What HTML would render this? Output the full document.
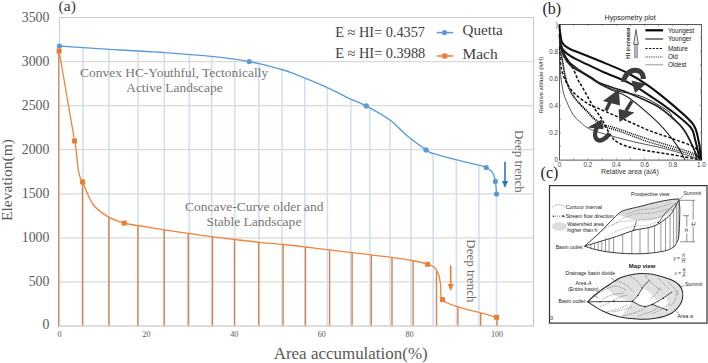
<!DOCTYPE html>
<html><head><meta charset="utf-8">
<style>
html,body{margin:0;padding:0;background:#fff;}
body{width:708px;height:363px;overflow:hidden;position:relative;}
svg{position:absolute;left:0;top:0;}
.serif{font-family:"Liberation Serif",serif;}
.sans{font-family:"Liberation Sans",sans-serif;}
</style></head><body>
<svg width="708" height="363" viewBox="0 0 708 363">
<rect width="708" height="363" fill="#fff"/>
<line x1="59.5" x2="534" y1="326.0" y2="326.0" stroke="#d9d9d9" stroke-width="1.2"/>
<line x1="59.5" x2="534" y1="281.9" y2="281.9" stroke="#d9d9d9" stroke-width="1.2"/>
<line x1="59.5" x2="534" y1="237.9" y2="237.9" stroke="#d9d9d9" stroke-width="1.2"/>
<line x1="59.5" x2="534" y1="193.8" y2="193.8" stroke="#d9d9d9" stroke-width="1.2"/>
<line x1="59.5" x2="534" y1="149.7" y2="149.7" stroke="#d9d9d9" stroke-width="1.2"/>
<line x1="59.5" x2="534" y1="105.6" y2="105.6" stroke="#d9d9d9" stroke-width="1.2"/>
<line x1="59.5" x2="534" y1="61.6" y2="61.6" stroke="#d9d9d9" stroke-width="1.2"/>
<line x1="59.5" x2="534" y1="17.5" y2="17.5" stroke="#d9d9d9" stroke-width="1.2"/>
<path d="M59.5,17.5 H533.5 V326" fill="none" stroke="#c8c8c8" stroke-width="1.1"/>
<line x1="59.5" x2="59.5" y1="17.5" y2="326" stroke="#d0d0d0" stroke-width="1.1"/>
<line x1="83.0" x2="83.0" y1="47.6" y2="326" stroke="#cfe0f3" stroke-width="1.6"/>
<line x1="108.9" x2="108.9" y1="49.3" y2="326" stroke="#cfe0f3" stroke-width="1.6"/>
<line x1="138.0" x2="138.0" y1="51.0" y2="326" stroke="#cfe0f3" stroke-width="1.6"/>
<line x1="164.3" x2="164.3" y1="52.5" y2="326" stroke="#cfe0f3" stroke-width="1.6"/>
<line x1="189.3" x2="189.3" y1="54.5" y2="326" stroke="#cfe0f3" stroke-width="1.6"/>
<line x1="211.7" x2="211.7" y1="56.4" y2="326" stroke="#cfe0f3" stroke-width="1.6"/>
<line x1="234.7" x2="234.7" y1="59.2" y2="326" stroke="#cfe0f3" stroke-width="1.6"/>
<line x1="258.8" x2="258.8" y1="63.6" y2="326" stroke="#cfe0f3" stroke-width="1.6"/>
<line x1="282.0" x2="282.0" y1="69.6" y2="326" stroke="#cfe0f3" stroke-width="1.6"/>
<line x1="304.8" x2="304.8" y1="78.1" y2="326" stroke="#cfe0f3" stroke-width="1.6"/>
<line x1="327.4" x2="327.4" y1="87.7" y2="326" stroke="#cfe0f3" stroke-width="1.6"/>
<line x1="350.7" x2="350.7" y1="99.0" y2="326" stroke="#cfe0f3" stroke-width="1.6"/>
<line x1="369.9" x2="369.9" y1="108.1" y2="326" stroke="#cfe0f3" stroke-width="1.6"/>
<line x1="390.0" x2="390.0" y1="120.1" y2="326" stroke="#cfe0f3" stroke-width="1.6"/>
<line x1="410.9" x2="410.9" y1="138.5" y2="326" stroke="#cfe0f3" stroke-width="1.6"/>
<line x1="433.2" x2="433.2" y1="153.4" y2="326" stroke="#cfe0f3" stroke-width="1.6"/>
<line x1="456.4" x2="456.4" y1="159.7" y2="326" stroke="#cfe0f3" stroke-width="1.6"/>
<line x1="478.9" x2="478.9" y1="165.2" y2="326" stroke="#cfe0f3" stroke-width="1.6"/>
<line x1="496.5" x2="496.5" y1="194.0" y2="326" stroke="#cfe0f3" stroke-width="1.6"/>
<line x1="58.6" x2="58.6" y1="51.0" y2="327" stroke="#d8824a" stroke-width="1.0"/>
<line x1="82.5" x2="82.5" y1="181.7" y2="327" stroke="#d8824a" stroke-width="1.4"/>
<line x1="108.9" x2="108.9" y1="217.1" y2="327" stroke="#d8824a" stroke-width="1.4"/>
<line x1="137.9" x2="137.9" y1="225.5" y2="327" stroke="#d8824a" stroke-width="1.4"/>
<line x1="164.2" x2="164.2" y1="229.8" y2="327" stroke="#d8824a" stroke-width="1.4"/>
<line x1="188.2" x2="188.2" y1="233.4" y2="327" stroke="#d8824a" stroke-width="1.4"/>
<line x1="212.5" x2="212.5" y1="236.8" y2="327" stroke="#d8824a" stroke-width="1.4"/>
<line x1="234.5" x2="234.5" y1="239.4" y2="327" stroke="#d8824a" stroke-width="1.4"/>
<line x1="258.7" x2="258.7" y1="242.3" y2="327" stroke="#d8824a" stroke-width="1.4"/>
<line x1="283.1" x2="283.1" y1="244.5" y2="327" stroke="#d8824a" stroke-width="1.4"/>
<line x1="305.5" x2="305.5" y1="247.0" y2="327" stroke="#d8824a" stroke-width="1.4"/>
<line x1="329.6" x2="329.6" y1="249.9" y2="327" stroke="#d8824a" stroke-width="1.4"/>
<line x1="352.1" x2="352.1" y1="252.6" y2="327" stroke="#d8824a" stroke-width="1.4"/>
<line x1="371.3" x2="371.3" y1="254.9" y2="327" stroke="#d8824a" stroke-width="1.4"/>
<line x1="392.0" x2="392.0" y1="257.4" y2="327" stroke="#d8824a" stroke-width="1.4"/>
<line x1="413.1" x2="413.1" y1="260.7" y2="327" stroke="#d8824a" stroke-width="1.4"/>
<line x1="436.5" x2="436.5" y1="270.9" y2="327" stroke="#d8824a" stroke-width="1.4"/>
<line x1="457.9" x2="457.9" y1="306.9" y2="327" stroke="#d8824a" stroke-width="1.4"/>
<line x1="480.7" x2="480.7" y1="312.9" y2="327" stroke="#d8824a" stroke-width="1.4"/>
<line x1="497.0" x2="497.0" y1="317.3" y2="327" stroke="#d8824a" stroke-width="1.4"/>
<line x1="59" x2="534" y1="326" y2="326" stroke="#d9d9d9" stroke-width="1.3"/>
<path d="M59.4,46.0 C63.4,46.3 74.9,47.1 83.3,47.6 C91.7,48.1 100.4,48.7 109.6,49.3 C118.8,49.9 129.1,50.5 138.4,51.0 C147.7,51.5 156.8,52.0 165.5,52.6 C174.2,53.2 182.8,54.0 190.4,54.6 C198.0,55.2 203.9,55.6 211.3,56.4 C218.7,57.2 228.4,58.3 234.7,59.2 C241.0,60.1 245.3,60.9 249.2,61.6 C253.1,62.3 252.6,62.1 258.0,63.4 C263.4,64.7 275.6,67.7 281.8,69.5 C288.0,71.3 291.2,72.7 295.0,74.1 C298.8,75.5 299.3,75.8 304.7,78.1 C310.1,80.3 319.6,84.1 327.2,87.6 C334.8,91.0 343.7,95.8 350.2,98.8 C356.7,101.8 359.5,102.2 366.3,105.9 C373.1,109.6 384.6,116.0 391.0,120.7 C397.4,125.4 399.2,129.1 405.0,134.0 C410.8,138.9 421.2,146.6 426.0,149.9 C430.8,153.2 428.6,151.9 433.7,153.6 C438.8,155.2 449.3,157.9 456.8,159.8 C464.3,161.7 474.0,163.9 478.9,165.2 C483.8,166.5 483.9,166.3 486.2,167.5 C488.5,168.7 491.0,170.2 492.5,172.5 C494.0,174.8 494.7,177.8 495.4,181.4 C496.1,185.0 496.3,191.9 496.5,194.0" fill="none" stroke="#5b9bd5" stroke-width="1.35"/>
<path d="M59.1,51 L74.6,141" fill="none" stroke="#ee8640" stroke-width="1.35"/>
<path d="M74.6,141.0 C74.8,142.5 75.7,146.8 76.1,150.0 C76.5,153.2 76.8,156.7 77.2,160.0 C77.6,163.3 77.8,167.2 78.3,170.0 C78.8,172.8 79.3,175.0 80.0,177.0 C80.7,179.0 80.4,177.3 82.6,181.9 C84.8,186.5 88.8,198.7 93.1,204.5 C97.4,210.3 103.1,213.8 108.3,216.9 C113.5,220.0 119.3,221.7 124.2,223.1 C129.1,224.5 130.9,224.4 137.6,225.5 C144.2,226.6 155.6,228.5 164.1,229.8 C172.6,231.1 180.4,232.2 188.5,233.4 C196.6,234.6 204.9,235.8 212.7,236.8 C220.5,237.8 227.6,238.6 235.3,239.5 C243.0,240.4 250.9,241.5 259.0,242.3 C267.1,243.1 275.8,243.7 283.6,244.5 C291.4,245.3 298.1,246.1 305.7,247.0 C313.3,247.9 321.5,249.0 329.2,249.9 C336.9,250.8 345.0,251.8 352.0,252.6 C359.0,253.4 364.4,254.1 371.0,254.9 C377.6,255.7 384.5,256.4 391.4,257.3 C398.3,258.2 406.4,259.3 412.4,260.5 C418.4,261.7 423.9,263.1 427.6,264.3 C431.3,265.5 432.7,265.8 434.5,267.5 C436.3,269.2 437.6,271.6 438.6,274.5 C439.6,277.4 440.0,280.8 440.6,285.0 C441.2,289.2 439.6,296.0 442.5,299.6 C445.4,303.2 451.6,304.7 458.0,306.9 C464.4,309.1 474.3,311.2 480.7,312.9 C487.1,314.6 493.9,316.6 496.5,317.3" fill="none" stroke="#ee8640" stroke-width="1.35"/>
<circle cx="59.4" cy="46.0" r="2.6" fill="#5b9bd5"/>
<circle cx="249.2" cy="61.6" r="2.6" fill="#5b9bd5"/>
<circle cx="366.3" cy="105.9" r="2.6" fill="#5b9bd5"/>
<circle cx="426.0" cy="149.9" r="2.6" fill="#5b9bd5"/>
<circle cx="486.2" cy="167.5" r="2.6" fill="#5b9bd5"/>
<circle cx="495.4" cy="181.4" r="2.6" fill="#5b9bd5"/>
<circle cx="496.5" cy="194.0" r="2.6" fill="#5b9bd5"/>
<rect x="56.6" y="48.5" width="5" height="5" fill="#ed7d31"/>
<rect x="72.1" y="138.5" width="5" height="5" fill="#ed7d31"/>
<rect x="80.1" y="179.4" width="5" height="5" fill="#ed7d31"/>
<rect x="121.7" y="220.6" width="5" height="5" fill="#ed7d31"/>
<rect x="425.1" y="261.8" width="5" height="5" fill="#ed7d31"/>
<rect x="440.0" y="297.1" width="5" height="5" fill="#ed7d31"/>
<rect x="494.0" y="314.8" width="5" height="5" fill="#ed7d31"/>
<!-- legend -->
<rect x="300" y="18" width="233" height="42" fill="#fff"/>
<g class="serif" fill="#404040" font-size="14" lengthAdjust="spacingAndGlyphs">
<text x="335.2" y="36.9" textLength="89.8" lengthAdjust="spacingAndGlyphs">E ≈ HI= 0.4357</text>
<text x="335.2" y="58.3" textLength="90.1" lengthAdjust="spacingAndGlyphs">E ≈ HI= 0.3988</text>
</g>
<line x1="436.7" x2="453.2" y1="32.6" y2="32.6" stroke="#5b9bd5" stroke-width="1.5"/>
<circle cx="444.5" cy="32.6" r="2.6" fill="#5b9bd5"/>
<line x1="436.7" x2="453.2" y1="56" y2="56" stroke="#ed7d31" stroke-width="1.5"/>
<rect x="442.2" y="53.5" width="5" height="5" fill="#ed7d31"/>
<g class="serif" fill="#404040" font-size="15.5">
<text x="462.5" y="35.4" textLength="40.3" lengthAdjust="spacingAndGlyphs">Quetta</text>
<text x="462.5" y="58.8" textLength="35.2" lengthAdjust="spacingAndGlyphs">Mach</text>
</g>
<!-- annotations -->
<g class="serif" fill="#767676" font-size="13">
<text x="80.1" y="76.9" textLength="188" lengthAdjust="spacingAndGlyphs">Convex HC-Youthful, Tectonically</text>
<text x="126.2" y="91.7" textLength="96.5" lengthAdjust="spacingAndGlyphs">Active Landscape</text>
<text x="185" y="210.9" textLength="138.5" lengthAdjust="spacingAndGlyphs">Concave-Curve older and</text>
<text x="206.4" y="226.3" textLength="95" lengthAdjust="spacingAndGlyphs">Stable Landscape</text>
</g>
<g class="serif" fill="#6a6a6a" font-size="13">
<text transform="translate(515.2,130) rotate(90)" textLength="62.6" lengthAdjust="spacingAndGlyphs">Deep trench</text>
<text transform="translate(466.7,239.3) rotate(90)" textLength="63.2" lengthAdjust="spacingAndGlyphs">Deep trench</text>
</g>
<!-- arrows -->
<line x1="505" x2="505" y1="161.8" y2="182" stroke="#2e75b6" stroke-width="1.6"/>
<path d="M502,181 L508,181 L505,188 Z" fill="#2e75b6"/>
<line x1="450.7" x2="450.7" y1="265.4" y2="285" stroke="#ed7d31" stroke-width="1.6"/>
<path d="M447.7,284 L453.7,284 L450.7,291 Z" fill="#ed7d31"/>
<!-- axis labels -->
<g class="serif" fill="#595959" font-size="13.8" text-anchor="end">
<text x="49.4" y="22.4">3500</text>
<text x="49.4" y="66.3">3000</text>
<text x="49.4" y="110">2500</text>
<text x="49.4" y="153.8">2000</text>
<text x="49.4" y="197.8">1500</text>
<text x="49.4" y="241.6">1000</text>
<text x="49.4" y="285.7">500</text>
<text x="49.4" y="329.4">0</text>
</g>
<g class="serif" fill="#555" font-size="8" text-anchor="middle">
<text x="59.5" y="336.7">0</text>
<text x="146.6" y="336.7">20</text>
<text x="234.2" y="336.7">40</text>
<text x="321.8" y="336.7">60</text>
<text x="409.4" y="336.7">80</text>
<text x="497" y="336.7">100</text>
</g>
<text class="serif" fill="#595959" font-size="14.6" transform="translate(12.3,221) rotate(-90)" textLength="82" lengthAdjust="spacingAndGlyphs">Elevation(m)</text>
<text class="serif" fill="#595959" font-size="16.2" x="273.7" y="359.3" textLength="154" lengthAdjust="spacingAndGlyphs">Area accumulation(%)</text>
<text class="serif" fill="#3a3a3a" font-size="15.6" x="58.6" y="10.9">(a)</text>
<g id="panelb">
<rect x="559.5" y="24.5" width="141.9" height="135.6" fill="#fff" stroke="#444" stroke-width="0.9"/>
<line x1="559.5" x2="561" y1="146.2" y2="146.2" stroke="#555" stroke-width="0.6"/>
<line x1="700" x2="701.4" y1="146.2" y2="146.2" stroke="#555" stroke-width="0.6"/>
<line x1="573.7" x2="573.7" y1="158.2" y2="159.7" stroke="#555" stroke-width="0.6"/>
<line x1="573.7" x2="573.7" y1="24.5" y2="26" stroke="#555" stroke-width="0.6"/>
<line x1="559.5" x2="561" y1="132.7" y2="132.7" stroke="#555" stroke-width="0.6"/>
<line x1="700" x2="701.4" y1="132.7" y2="132.7" stroke="#555" stroke-width="0.6"/>
<line x1="587.9" x2="587.9" y1="158.2" y2="159.7" stroke="#555" stroke-width="0.6"/>
<line x1="587.9" x2="587.9" y1="24.5" y2="26" stroke="#555" stroke-width="0.6"/>
<line x1="559.5" x2="561" y1="119.1" y2="119.1" stroke="#555" stroke-width="0.6"/>
<line x1="700" x2="701.4" y1="119.1" y2="119.1" stroke="#555" stroke-width="0.6"/>
<line x1="602.1" x2="602.1" y1="158.2" y2="159.7" stroke="#555" stroke-width="0.6"/>
<line x1="602.1" x2="602.1" y1="24.5" y2="26" stroke="#555" stroke-width="0.6"/>
<line x1="559.5" x2="561" y1="105.6" y2="105.6" stroke="#555" stroke-width="0.6"/>
<line x1="700" x2="701.4" y1="105.6" y2="105.6" stroke="#555" stroke-width="0.6"/>
<line x1="616.3" x2="616.3" y1="158.2" y2="159.7" stroke="#555" stroke-width="0.6"/>
<line x1="616.3" x2="616.3" y1="24.5" y2="26" stroke="#555" stroke-width="0.6"/>
<line x1="559.5" x2="561" y1="92.1" y2="92.1" stroke="#555" stroke-width="0.6"/>
<line x1="700" x2="701.4" y1="92.1" y2="92.1" stroke="#555" stroke-width="0.6"/>
<line x1="630.5" x2="630.5" y1="158.2" y2="159.7" stroke="#555" stroke-width="0.6"/>
<line x1="630.5" x2="630.5" y1="24.5" y2="26" stroke="#555" stroke-width="0.6"/>
<line x1="559.5" x2="561" y1="78.6" y2="78.6" stroke="#555" stroke-width="0.6"/>
<line x1="700" x2="701.4" y1="78.6" y2="78.6" stroke="#555" stroke-width="0.6"/>
<line x1="644.6" x2="644.6" y1="158.2" y2="159.7" stroke="#555" stroke-width="0.6"/>
<line x1="644.6" x2="644.6" y1="24.5" y2="26" stroke="#555" stroke-width="0.6"/>
<line x1="559.5" x2="561" y1="65.1" y2="65.1" stroke="#555" stroke-width="0.6"/>
<line x1="700" x2="701.4" y1="65.1" y2="65.1" stroke="#555" stroke-width="0.6"/>
<line x1="658.8" x2="658.8" y1="158.2" y2="159.7" stroke="#555" stroke-width="0.6"/>
<line x1="658.8" x2="658.8" y1="24.5" y2="26" stroke="#555" stroke-width="0.6"/>
<line x1="559.5" x2="561" y1="51.5" y2="51.5" stroke="#555" stroke-width="0.6"/>
<line x1="700" x2="701.4" y1="51.5" y2="51.5" stroke="#555" stroke-width="0.6"/>
<line x1="673.0" x2="673.0" y1="158.2" y2="159.7" stroke="#555" stroke-width="0.6"/>
<line x1="673.0" x2="673.0" y1="24.5" y2="26" stroke="#555" stroke-width="0.6"/>
<line x1="559.5" x2="561" y1="38.0" y2="38.0" stroke="#555" stroke-width="0.6"/>
<line x1="700" x2="701.4" y1="38.0" y2="38.0" stroke="#555" stroke-width="0.6"/>
<line x1="687.2" x2="687.2" y1="158.2" y2="159.7" stroke="#555" stroke-width="0.6"/>
<line x1="687.2" x2="687.2" y1="24.5" y2="26" stroke="#555" stroke-width="0.6"/>
<path d="M559.5,24.5 C559.5,25.4 559.6,28.2 559.8,29.9 C559.9,31.6 560.0,32.6 560.4,34.5 C560.7,36.4 560.8,39.5 561.6,41.4 C562.4,43.3 563.6,44.8 565.2,46.1 C566.7,47.5 568.4,48.4 570.9,49.5 C573.3,50.6 575.1,51.0 579.9,52.9 C584.8,54.8 591.9,57.6 599.9,61.0 C608.0,64.4 619.7,68.9 628.0,73.2 C636.4,77.5 642.6,81.5 650.0,86.8 C657.5,92.1 665.4,98.7 672.6,104.9 C679.8,111.2 688.7,118.1 693.0,124.1 C697.4,130.2 697.3,135.6 698.6,141.0 C699.9,146.5 700.4,153.8 700.8,156.9 C701.3,160.0 701.3,159.2 701.4,159.7" fill="none" stroke="#111" stroke-width="2.1"/>
<path d="M559.5,34.0 C559.9,36.3 560.1,44.4 562.1,48.2 C564.0,51.9 566.8,53.7 571.1,56.4 C575.4,59.2 582.3,62.0 587.9,64.7 C593.4,67.3 597.6,69.5 604.3,72.5 C611.0,75.4 620.4,78.5 628.0,82.4 C635.7,86.2 642.6,90.9 650.0,95.8 C657.5,100.6 665.8,106.4 672.6,111.7 C679.4,117.0 687.0,122.8 690.8,127.5 C694.5,132.2 693.9,135.4 695.2,140.0 C696.5,144.5 697.9,151.4 698.6,154.7 C699.2,158.0 699.2,158.9 699.3,159.7" fill="none" stroke="#111" stroke-width="2.0"/>
<path d="M559.5,38.0 C560.1,40.3 561.4,47.5 563.0,51.5 C564.7,55.6 566.6,59.2 569.4,62.4 C572.2,65.5 576.3,68.0 579.9,70.5 C583.5,72.9 587.7,75.1 591.0,77.2 C594.3,79.3 595.7,81.1 599.9,83.0 C604.2,85.0 611.6,87.1 616.3,88.7 C620.9,90.3 621.4,90.0 628.0,92.8 C634.7,95.6 648.6,101.3 656.1,105.6 C663.6,109.9 668.3,114.4 673.0,118.5 C677.7,122.6 680.5,124.5 684.2,130.2 C688.0,135.9 693.4,147.8 695.4,152.7 C697.5,157.6 696.3,158.5 696.4,159.7" fill="none" stroke="#222" stroke-width="1.7"/>
<path d="M559.5,40.7 C560.2,43.2 561.9,51.5 563.8,55.6 C565.6,59.7 568.2,62.5 570.9,65.1 C573.5,67.7 576.6,69.0 579.9,71.1 C583.3,73.3 587.7,75.8 591.0,77.9 C594.3,80.0 595.6,81.6 599.9,83.7 C604.3,85.9 609.9,88.7 617.0,90.9 C624.0,93.0 633.7,93.3 642.1,96.6 C650.5,99.9 662.2,107.1 667.3,110.6 C672.5,114.2 670.2,114.5 673.0,117.8 C675.8,121.1 680.5,124.4 684.2,130.2 C688.0,136.0 693.4,147.8 695.4,152.7 C697.5,157.6 696.3,158.5 696.4,159.7" fill="none" stroke="#222" stroke-width="1.0"/>
<path d="M559.5,42.1 C560.2,44.6 561.9,52.9 563.8,56.9 C565.6,61.0 568.2,63.9 570.9,66.4 C573.5,68.9 576.6,69.8 579.9,71.8 C583.3,73.8 587.7,76.5 591.0,78.6 C594.3,80.7 596.7,82.5 599.9,84.3 C603.2,86.1 605.9,87.2 610.6,89.4 C615.3,91.6 621.5,93.0 628.0,97.2 C634.6,101.5 644.1,109.9 650.0,115.1 C656.0,120.3 659.1,123.5 663.7,128.6 C668.2,133.7 673.6,140.5 677.1,145.6 C680.7,150.8 683.6,157.4 684.9,159.7" fill="none" stroke="#222" stroke-width="1.1"/>
<path d="M559.5,46.1 C560.5,48.0 563.2,53.6 565.5,57.2 C567.7,60.9 570.8,64.3 572.8,68.0 C574.9,71.8 576.2,76.3 577.8,79.5 C579.4,82.8 580.0,83.1 582.6,87.6 C585.3,92.2 590.3,101.7 593.6,107.0 C596.8,112.2 599.2,114.7 601.9,119.3 C604.7,123.9 607.4,130.6 610.2,134.6 C612.9,138.5 614.2,140.5 618.4,142.8 C622.5,145.1 627.3,146.7 635.0,148.5 C642.7,150.3 653.7,151.6 664.8,153.5 C675.9,155.4 695.3,158.7 701.4,159.7" fill="none" stroke="#111" stroke-width="1.5" stroke-dasharray="3,1.8"/>
<path d="M559.5,47.5 C559.9,51.4 559.9,63.9 561.9,71.0 C563.9,78.2 567.2,84.9 571.6,90.3 C575.9,95.8 583.1,100.5 587.9,103.6 C592.6,106.7 593.2,106.2 599.9,109.1 C606.6,112.1 619.7,117.5 628.0,121.2 C636.4,124.8 642.6,128.0 650.0,130.9 C657.5,133.8 665.1,135.9 672.6,138.7 C680.1,141.6 690.4,144.4 695.2,147.9 C700.0,151.4 700.4,157.7 701.4,159.7" fill="none" stroke="#111" stroke-width="1.5" stroke-dasharray="3,1.8"/>
<path d="M559.5,48.8 C559.8,49.8 560.5,50.5 561.3,54.8 C562.2,59.1 563.4,69.5 564.6,74.7 C565.8,79.9 566.8,82.4 568.3,86.0 C569.8,89.6 571.3,92.8 573.7,96.2 C576.1,99.5 578.3,101.9 582.6,106.3 C587.0,110.7 594.1,118.9 599.7,122.5 C605.2,126.1 609.8,125.9 615.7,127.9 C621.6,130.0 629.3,132.7 635.0,134.7 C640.7,136.6 643.0,137.5 650.0,139.7 C657.1,141.9 669.2,145.4 677.1,147.9 C685.0,150.5 693.4,153.0 697.4,155.0 C701.5,156.9 700.7,158.9 701.4,159.7" fill="none" stroke="#111" stroke-width="1.35" stroke-dasharray="1.1,0.9"/>
<path d="M559.5,51.5 C560.0,52.9 561.3,55.1 562.3,59.7 C563.4,64.2 564.7,73.6 565.9,78.6 C567.1,83.5 567.9,86.0 569.4,89.4 C571.0,92.8 572.5,95.5 575.1,98.9 C577.7,102.2 580.8,105.3 585.0,109.7 C589.3,114.0 595.2,121.3 600.7,124.8 C606.1,128.3 612.0,128.6 617.7,130.6 C623.4,132.7 629.6,135.0 635.0,137.0 C640.4,138.9 643.0,140.2 650.0,142.4 C657.1,144.6 669.2,147.9 677.1,150.2 C685.0,152.6 693.4,154.9 697.4,156.5 C701.5,158.0 700.7,159.2 701.4,159.7" fill="none" stroke="#111" stroke-width="1.35" stroke-dasharray="1.1,0.9"/>
<path d="M559.5,54.2 C559.7,57.6 560.0,68.4 560.6,74.5 C561.2,80.6 562.1,86.2 563.0,90.7 C564.0,95.3 564.9,97.6 566.6,101.6 C568.3,105.6 570.8,111.2 573.3,114.8 C575.7,118.4 578.7,120.7 581.5,123.1 C584.3,125.4 585.1,126.9 589.9,129.0 C594.6,131.1 602.6,133.4 610.2,135.6 C617.7,137.8 625.7,139.9 635.0,142.1 C644.3,144.3 654.9,146.0 665.9,148.9 C677.0,151.8 695.5,157.9 701.4,159.7" fill="none" stroke="#444" stroke-width="0.9"/>
<path d="M623.5,82 C624.5,75 629.5,70.5 635,70.3 C640,70.2 643.5,73.5 643.3,79" fill="none" stroke="#3c3c3c" stroke-width="5"/>
<path d="M631.5,80.5 L646,84 L635,93 Z" fill="#3c3c3c"/>
<line x1="606" y1="110.5" x2="611" y2="100" stroke="#3c3c3c" stroke-width="3.6"/>
<path d="M618.8,89.2 L603,101 L620,105.5 Z" fill="#3c3c3c"/>
<line x1="632" y1="101" x2="625.8" y2="111" stroke="#3c3c3c" stroke-width="3.4"/>
<path d="M618.6,109 L634.5,112.5 L619.5,122 Z" fill="#3c3c3c"/>
<path d="M597.5,126 C595,131 594,137 597,139.5 C600,142 606,139 609.5,133.5" fill="none" stroke="#3c3c3c" stroke-width="4.4"/>
<path d="M587.5,127.4 L601.8,119.5 L603.5,129.2 Z" fill="#3c3c3c"/>
<rect x="643" y="26" width="57" height="43" fill="#fff"/>
<line x1="645.4" x2="663.1" y1="30.3" y2="30.3" stroke="#000" stroke-width="2.2"/>
<line x1="645.4" x2="663.1" y1="39" y2="39" stroke="#777" stroke-width="1.8"/>
<line x1="645.4" x2="663.1" y1="48.5" y2="48.5" stroke="#111" stroke-width="1.1" stroke-dasharray="2.2,1.4"/>
<line x1="645.4" x2="663.1" y1="57" y2="57" stroke="#333" stroke-width="1" stroke-dasharray="0.9,0.9"/>
<line x1="645.4" x2="663.1" y1="64.8" y2="64.8" stroke="#999" stroke-width="1"/>
<g class="sans" font-size="6.4" fill="#222">
<text x="667.9" y="32.5">Youngest</text>
<text x="667.9" y="41.2">Younger</text>
<text x="667.9" y="50.7">Mature</text>
<text x="667.9" y="59.2">Old</text>
<text x="667.9" y="67.0">Oldest</text>
</g>
<rect x="634.3" y="44" width="3.3" height="13.8" fill="#b5b5b5" stroke="#777" stroke-width="0.5"/>
<path d="M636,29.5 L638.4,44.4 L633.6,44.4 Z" fill="#e8e8e8" stroke="#444" stroke-width="0.8"/>
<text class="sans" font-size="6.2" fill="#111" stroke="#111" stroke-width="0.12" text-anchor="middle" transform="translate(630.3,43.3) rotate(-90)">HI increase</text>
<text class="sans" font-size="7.2" fill="#222" x="604.6" y="19.9" textLength="51.2" lengthAdjust="spacingAndGlyphs">Hypsometry plot</text>
<g class="sans" font-size="6.3" fill="#444" text-anchor="end">
<text x="557.9" y="53.7">0.8</text>
<text x="557.9" y="80.8">0.6</text>
<text x="557.9" y="107.8">0.4</text>
<text x="557.9" y="134.9">0.2</text>
<text x="557.9" y="161.9">0</text>
<text x="557.8" y="26.5">)</text>
</g>
<g class="sans" font-size="6.3" fill="#444" text-anchor="middle">
<text x="559.5" y="166.6">0</text>
<text x="587.9" y="166.6">0.2</text>
<text x="616.3" y="166.6">0.4</text>
<text x="644.6" y="166.6">0.6</text>
<text x="673.0" y="166.6">0.8</text>
<text x="701.4" y="166.6">1.0</text>
</g>
<text class="sans" font-size="6.8" fill="#333" x="601" y="173.8" textLength="57.8" lengthAdjust="spacingAndGlyphs">Relative area (a/<tspan font-style="italic">A</tspan>)</text>
<text class="sans" font-size="5.9" fill="#333" text-anchor="middle" transform="translate(543.4,85) rotate(-90)">Relative altitude (h/H)</text>
<text class="serif" font-size="16" fill="#222" x="542.4" y="14.2">(b)</text>
<text class="serif" font-size="16" fill="#222" x="540.6" y="178">(c)</text>
</g>
<g id="panelc">
<rect x="549.5" y="185.6" width="157.5" height="137.5" fill="#fff" stroke="#333" stroke-width="1.2"/>
<path d="M552.2,207.2 Q558.4,202.3 564.6,206.8" fill="none" stroke="#666" stroke-width="0.7" stroke-dasharray="0.8,0.8"/>
<line x1="553" x2="563.5" y1="216.2" y2="216.2" stroke="#444" stroke-width="0.6" stroke-dasharray="1,1"/>
<circle cx="553.5" cy="216.2" r="0.8" fill="#222"/><path d="M562.5,214.8 L565,216.2 L562.5,217.6Z" fill="#222"/>
<ellipse cx="559.4" cy="226.5" rx="7.4" ry="4.2" fill="#dcdcdc"/>
<g class="sans" font-size="5.15" fill="#1a1a1a">
<text x="565.7" y="208.6">Contour interval</text>
<text x="565.7" y="218">Stream flow direction</text>
<text x="567.3" y="226.2">Watershed area</text>
<text x="567.3" y="231.6">higher than h</text>
<text x="555.7" y="249">Basin outlet</text>
<text x="631" y="196">Prospective view</text>
<text x="683.6" y="195.3">Summit</text>
</g>
<path d="M617.5,214.5 C618.3,213.9 620.4,211.9 622.5,211.0 C624.6,210.1 626.8,209.6 630.0,208.8 C633.2,208.0 637.7,207.1 642.0,206.0 C646.3,204.9 651.0,203.5 655.6,202.5 C660.2,201.5 665.5,200.4 669.4,199.8 C673.3,199.2 678.0,198.0 679.1,198.9 C680.2,199.8 678.3,202.4 676.3,205.0 C674.3,207.6 670.5,211.9 667.1,214.3 C663.7,216.7 659.5,218.2 655.6,219.2 C651.8,220.2 647.8,220.4 644.0,220.5 C640.2,220.6 636.3,220.1 633.0,219.5 C629.7,218.9 625.5,217.2 624.0,216.8 Z" fill="#dcdcdc"/>
<line x1="590.9" x2="590.9" y1="244.3" y2="248.1" stroke="#555" stroke-width="0.6"/>
<line x1="594.5" x2="594.5" y1="243.2" y2="249.1" stroke="#555" stroke-width="0.6"/>
<line x1="598.2" x2="598.2" y1="242.0" y2="250.2" stroke="#555" stroke-width="0.6"/>
<line x1="601.8" x2="601.8" y1="241.0" y2="250.7" stroke="#555" stroke-width="0.6"/>
<line x1="605.5" x2="605.5" y1="239.8" y2="251.3" stroke="#555" stroke-width="0.6"/>
<line x1="609.1" x2="609.1" y1="238.7" y2="251.8" stroke="#555" stroke-width="0.6"/>
<line x1="613.6" x2="613.6" y1="237.4" y2="252.5" stroke="#555" stroke-width="0.6"/>
<line x1="622.7" x2="622.7" y1="234.3" y2="253.2" stroke="#555" stroke-width="0.6"/>
<line x1="631.8" x2="631.8" y1="231.1" y2="253.7" stroke="#555" stroke-width="0.6"/>
<line x1="640.0" x2="640.0" y1="229.2" y2="253.5" stroke="#555" stroke-width="0.6"/>
<line x1="648.2" x2="648.2" y1="227.7" y2="253.1" stroke="#555" stroke-width="0.6"/>
<line x1="654.5" x2="654.5" y1="225.2" y2="252.6" stroke="#555" stroke-width="0.6"/>
<line x1="660.9" x2="660.9" y1="222.1" y2="251.4" stroke="#555" stroke-width="0.6"/>
<line x1="665.5" x2="665.5" y1="218.3" y2="250.5" stroke="#555" stroke-width="0.6"/>
<line x1="670.0" x2="670.0" y1="214.6" y2="248.8" stroke="#555" stroke-width="0.6"/>
<line x1="673.6" x2="673.6" y1="209.1" y2="247.0" stroke="#555" stroke-width="0.6"/>
<line x1="676.4" x2="676.4" y1="204.2" y2="242.7" stroke="#555" stroke-width="0.6"/>
<line x1="678.2" x2="678.2" y1="201.1" y2="239.1" stroke="#555" stroke-width="0.6"/>
<path d="M596.0,236.0 C597.7,234.7 602.0,230.3 606.0,228.0 C610.0,225.7 614.3,223.3 620.0,222.0 C625.7,220.7 633.3,220.8 640.0,220.0 C646.7,219.2 654.3,219.0 660.0,217.0 C665.7,215.0 671.7,209.5 674.0,208.0" fill="none" stroke="#666" stroke-width="0.6" stroke-dasharray="0.8,0.9"/>
<path d="M604.0,239.0 C605.8,237.8 610.7,234.0 615.0,232.0 C619.3,230.0 624.5,228.2 630.0,227.0 C635.5,225.8 642.7,226.2 648.0,225.0 C653.3,223.8 659.7,220.8 662.0,220.0" fill="none" stroke="#666" stroke-width="0.6" stroke-dasharray="0.8,0.9"/>
<path d="M612.0,226.0 C613.7,224.8 618.0,221.0 622.0,219.0 C626.0,217.0 631.0,215.0 636.0,214.0 C641.0,213.0 646.7,213.8 652.0,213.0 C657.3,212.2 665.3,209.7 668.0,209.0" fill="none" stroke="#666" stroke-width="0.6" stroke-dasharray="0.8,0.9"/>
<path d="M626.0,214.0 C628.3,213.3 635.0,211.0 640.0,210.0 C645.0,209.0 650.7,209.2 656.0,208.0 C661.3,206.8 669.3,203.8 672.0,203.0" fill="none" stroke="#666" stroke-width="0.6" stroke-dasharray="0.8,0.9"/>
<path d="M584.5,246.2 C585.8,245.1 589.4,241.9 592.0,239.6 C594.6,237.3 597.5,234.7 600.0,232.3 C602.5,229.9 604.8,227.4 607.0,225.2 C609.2,223.0 611.2,220.8 613.0,219.0 C614.8,217.2 615.9,215.8 617.5,214.5 C619.1,213.2 620.4,211.9 622.5,211.0 C624.6,210.1 626.8,209.6 630.0,208.8 C633.2,208.0 637.7,207.1 642.0,206.0 C646.3,204.9 651.0,203.5 655.6,202.5 C660.2,201.5 665.5,200.4 669.4,199.8 C673.3,199.2 677.5,199.1 679.1,198.9" fill="none" stroke="#222" stroke-width="0.9"/>
<path d="M584.5,246.2 C587.1,245.4 594.7,243.1 600.0,241.5 C605.3,239.9 610.6,238.4 616.4,236.5 C622.1,234.6 629.0,231.7 634.5,230.2 C640.0,228.7 644.9,228.7 649.1,227.5 C653.4,226.3 656.4,225.2 660.0,222.9 C663.6,220.6 667.7,217.7 670.9,213.8 C674.1,209.9 677.7,201.9 679.1,199.5" fill="none" stroke="#222" stroke-width="0.9"/>
<path d="M679.1,199.5 C679.2,201.3 679.8,205.4 679.8,210.2 C679.8,215.0 679.6,223.6 679.3,228.4 C679.0,233.2 679.0,236.3 678.2,239.3 C677.4,242.3 675.1,245.3 674.5,246.5" fill="none" stroke="#222" stroke-width="0.9"/>
<path d="M674.5,246.5 C673.3,247.1 670.9,249.1 667.3,250.2 C663.7,251.3 658.2,252.3 652.7,252.9 C647.2,253.5 640.5,253.8 634.5,253.8 C628.5,253.8 622.4,253.5 616.4,252.9 C610.4,252.3 603.5,251.3 598.2,250.2 C592.9,249.1 586.8,246.9 584.5,246.2" fill="none" stroke="#222" stroke-width="0.9"/>
<path d="M633.6,230.2 L636.4,221.1 M658.2,222.9 L666,212 L676,203" fill="none" stroke="#333" stroke-width="0.7"/>
<circle cx="633.6" cy="230" r="0.8" fill="#222"/><circle cx="658.2" cy="222.7" r="0.8" fill="#222"/>
<line x1="683.5" y1="195.5" x2="680" y2="199" stroke="#333" stroke-width="0.5"/>
<g stroke="#444" stroke-width="0.6">
<line x1="680" x2="695" y1="200.3" y2="200.3"/><line x1="693.2" x2="693.2" y1="200.3" y2="241.8"/>
<line x1="680" x2="695" y1="241.8" y2="241.8"/><line x1="683" x2="689" y1="215.7" y2="215.7"/><line x1="686.8" x2="686.8" y1="215.7" y2="241.8"/>
</g>
<rect x="690.5" y="219.5" width="5.5" height="7" fill="#fff"/><rect x="684" y="226.5" width="5.5" height="7" fill="#fff"/>
<g class="sans" font-size="6" font-style="italic" fill="#333">
<text x="691.3" y="225.5">H</text><text x="684.8" y="232.2">h</text>
</g>
<g class="sans" font-size="4.6" fill="#333" font-style="italic">
<text x="673.5" y="259.8">y =</text><text x="682.3" y="257.3">h</text><text x="681.8" y="263">H</text>
<text x="674.6" y="275">x =</text><text x="682.8" y="271">a</text><text x="682.3" y="277.4">A</text>
</g>
<line x1="681.5" x2="686" y1="258.6" y2="258.6" stroke="#333" stroke-width="0.4"/>
<line x1="682" x2="686.5" y1="272.2" y2="272.2" stroke="#333" stroke-width="0.4"/>
<defs><clipPath id="mapclip"><path d="M587.6,301.8 C589.3,300.2 594.4,295.4 598.0,292.5 C601.6,289.6 605.7,287.0 609.5,284.5 C613.3,282.0 616.4,279.4 621.0,277.6 C625.6,275.8 632.1,274.3 637.1,273.7 C642.1,273.1 646.3,273.4 650.9,274.0 C655.5,274.6 660.6,276.2 664.7,277.5 C668.8,278.8 672.7,280.2 675.5,282.0 C678.3,283.8 680.3,286.0 681.5,288.5 C682.7,291.0 683.0,294.2 682.7,297.0 C682.4,299.8 681.6,302.5 679.7,305.2 C677.9,307.9 675.6,311.0 671.6,313.2 C667.6,315.4 661.2,317.3 655.5,318.3 C649.8,319.3 643.2,319.3 637.1,319.0 C631.0,318.7 624.5,318.0 618.7,316.7 C612.9,315.4 607.7,313.5 602.5,311.0 C597.3,308.5 590.1,303.3 587.6,301.8 Z"/></clipPath></defs>
<path d="M587.6,301.8 C589.3,300.2 594.4,295.4 598.0,292.5 C601.6,289.6 605.7,287.0 609.5,284.5 C613.3,282.0 616.4,279.4 621.0,277.6 C625.6,275.8 632.1,274.3 637.1,273.7 C642.1,273.1 646.3,273.4 650.9,274.0 C655.5,274.6 660.6,276.2 664.7,277.5 C668.8,278.8 672.7,280.2 675.5,282.0 C678.3,283.8 680.3,286.0 681.5,288.5 C682.7,291.0 683.0,294.2 682.7,297.0 C682.4,299.8 681.6,302.5 679.7,305.2 C677.9,307.9 675.6,311.0 671.6,313.2 C667.6,315.4 661.2,317.3 655.5,318.3 C649.8,319.3 643.2,319.3 637.1,319.0 C631.0,318.7 624.5,318.0 618.7,316.7 C612.9,315.4 607.7,313.5 602.5,311.0 C597.3,308.5 590.1,303.3 587.6,301.8 Z" fill="#fff"/>
<g clip-path="url(#mapclip)">
<rect x="580" y="265" width="110" height="60" fill="#e0e0e0"/>
<path d="M580,280 L605,286 Q610,292 614,295 Q622,299 632,301.4 Q629,307 624,313 L618,322 L580,322 Z" fill="#fff"/>
<path d="M633,300.5 Q637,295 641,289 Q647,289 651,294 Q655,298 657,301 Q652,305 645,306.8 Q639,305.5 633,300.5 Z" fill="#fff"/>
<path d="M654,302 Q660,298 666,297 Q669,302 667,309 Q661,309 656,306 Z" fill="#fff"/>
</g>
<path d="M596.0,295.0 C597.7,294.0 602.7,290.5 606.0,289.0 C609.3,287.5 612.7,285.8 616.0,286.0 C619.3,286.2 624.3,289.3 626.0,290.0" fill="none" stroke="#555" stroke-width="0.65" stroke-dasharray="0.9,0.9"/>
<path d="M600.0,307.0 C601.7,306.2 606.7,303.7 610.0,302.0 C613.3,300.3 617.0,298.2 620.0,297.0 C623.0,295.8 626.7,295.3 628.0,295.0" fill="none" stroke="#555" stroke-width="0.65" stroke-dasharray="0.9,0.9"/>
<path d="M606.0,312.0 C608.0,311.5 614.3,310.2 618.0,309.0 C621.7,307.8 626.3,305.7 628.0,305.0" fill="none" stroke="#555" stroke-width="0.65" stroke-dasharray="0.9,0.9"/>
<path d="M602.0,299.0 C603.7,298.3 608.3,296.0 612.0,295.0 C615.7,294.0 622.0,293.3 624.0,293.0" fill="none" stroke="#555" stroke-width="0.65" stroke-dasharray="0.9,0.9"/>
<path d="M616.0,280.0 C617.7,280.8 623.0,283.0 626.0,285.0 C629.0,287.0 632.7,290.8 634.0,292.0" fill="none" stroke="#555" stroke-width="0.65" stroke-dasharray="0.9,0.9"/>
<path d="M630.0,276.0 C631.3,277.0 635.8,279.7 638.0,282.0 C640.2,284.3 642.2,288.7 643.0,290.0" fill="none" stroke="#555" stroke-width="0.65" stroke-dasharray="0.9,0.9"/>
<path d="M645.0,275.0 C645.8,276.0 648.2,279.0 650.0,281.0 C651.8,283.0 654.0,285.5 656.0,287.0 C658.0,288.5 661.0,289.5 662.0,290.0" fill="none" stroke="#555" stroke-width="0.65" stroke-dasharray="0.9,0.9"/>
<path d="M658.0,278.0 C659.0,279.0 662.0,282.0 664.0,284.0 C666.0,286.0 669.0,289.0 670.0,290.0" fill="none" stroke="#555" stroke-width="0.65" stroke-dasharray="0.9,0.9"/>
<path d="M668.0,282.0 C669.0,283.0 672.3,285.8 674.0,288.0 C675.7,290.2 677.3,293.8 678.0,295.0" fill="none" stroke="#555" stroke-width="0.65" stroke-dasharray="0.9,0.9"/>
<path d="M678.0,290.0 C677.5,291.7 676.2,297.3 675.0,300.0 C673.8,302.7 671.7,305.0 671.0,306.0" fill="none" stroke="#555" stroke-width="0.65" stroke-dasharray="0.9,0.9"/>
<path d="M652.0,314.0 C653.7,313.2 659.0,310.7 662.0,309.0 C665.0,307.3 668.7,304.8 670.0,304.0" fill="none" stroke="#555" stroke-width="0.65" stroke-dasharray="0.9,0.9"/>
<path d="M638.0,316.0 C640.0,315.3 646.7,313.3 650.0,312.0 C653.3,310.7 656.7,308.7 658.0,308.0" fill="none" stroke="#555" stroke-width="0.65" stroke-dasharray="0.9,0.9"/>
<path d="M622.0,316.0 C624.0,315.5 630.3,314.2 634.0,313.0 C637.7,311.8 642.3,309.7 644.0,309.0" fill="none" stroke="#555" stroke-width="0.65" stroke-dasharray="0.9,0.9"/>
<path d="M660.0,287.0 C659.3,288.2 657.7,292.0 656.0,294.0 C654.3,296.0 651.0,298.2 650.0,299.0" fill="none" stroke="#555" stroke-width="0.65" stroke-dasharray="0.9,0.9"/>
<path d="M612.0,312.0 C613.7,311.7 618.7,310.8 622.0,310.0 C625.3,309.2 630.3,307.5 632.0,307.0" fill="none" stroke="#555" stroke-width="0.65" stroke-dasharray="0.9,0.9"/>
<path d="M587.6,301.8 C589.3,300.2 594.4,295.4 598.0,292.5 C601.6,289.6 605.7,287.0 609.5,284.5 C613.3,282.0 616.4,279.4 621.0,277.6 C625.6,275.8 632.1,274.3 637.1,273.7 C642.1,273.1 646.3,273.4 650.9,274.0 C655.5,274.6 660.6,276.2 664.7,277.5 C668.8,278.8 672.7,280.2 675.5,282.0 C678.3,283.8 680.3,286.0 681.5,288.5 C682.7,291.0 683.0,294.2 682.7,297.0 C682.4,299.8 681.6,302.5 679.7,305.2 C677.9,307.9 675.6,311.0 671.6,313.2 C667.6,315.4 661.2,317.3 655.5,318.3 C649.8,319.3 643.2,319.3 637.1,319.0 C631.0,318.7 624.5,318.0 618.7,316.7 C612.9,315.4 607.7,313.5 602.5,311.0 C597.3,308.5 590.1,303.3 587.6,301.8 Z" fill="none" stroke="#2a2a2a" stroke-width="1.05"/>
<g fill="none" stroke="#222" stroke-width="0.8">
<path d="M587.6,301.8 L600,301.7 L614,301.4 L632.4,301.4"/>
<path d="M632.4,301.4 L637.9,295.5 L643.3,286.4 L649.6,280.1"/>
<path d="M632.4,301.4 L639.7,305.4 L645.1,306.8 L652.3,304.5 L663.2,298.2 L672.2,291.8"/>
<path d="M652.3,304.5 L659,307 L666.8,309.9"/>
</g>
<circle cx="600.0" cy="301.7" r="0.8" fill="#222"/>
<circle cx="614.0" cy="301.4" r="0.8" fill="#222"/>
<circle cx="632.4" cy="301.4" r="0.8" fill="#222"/>
<circle cx="637.9" cy="295.5" r="0.8" fill="#222"/>
<circle cx="645.1" cy="306.8" r="0.8" fill="#222"/>
<circle cx="652.3" cy="304.5" r="0.8" fill="#222"/>
<circle cx="663.2" cy="298.2" r="0.8" fill="#222"/>
<circle cx="666.8" cy="309.9" r="0.8" fill="#222"/>
<g stroke="#333" stroke-width="0.5"><line x1="610.7" y1="277.4" x2="616.2" y2="281.9"/><line x1="592.7" y1="294.5" x2="598.1" y2="298.2"/><line x1="684" y1="285.5" x2="680.4" y2="287.3"/><line x1="678.6" y1="313.5" x2="674" y2="309"/></g>
<g class="sans" font-size="5.15" fill="#1a1a1a">
<text x="565.6" y="274.8">Drainage basin divide</text>
<text x="575.6" y="285">Area <tspan font-style="italic">A</tspan></text>
<text x="568" y="290.7">(Entire basin)</text>
<text x="558.5" y="303.3">Basin outlet</text>
<text x="684.9" y="285.8">Summit</text>
<text x="677.6" y="317.7">Area <tspan font-style="italic">a</tspan></text>
<text x="550.3" y="320.2">0</text>
</g>
<text class="sans" font-size="6" font-weight="bold" fill="#222" x="628.8" y="268.2">Map view</text>
</g>
</svg>
</body></html>
